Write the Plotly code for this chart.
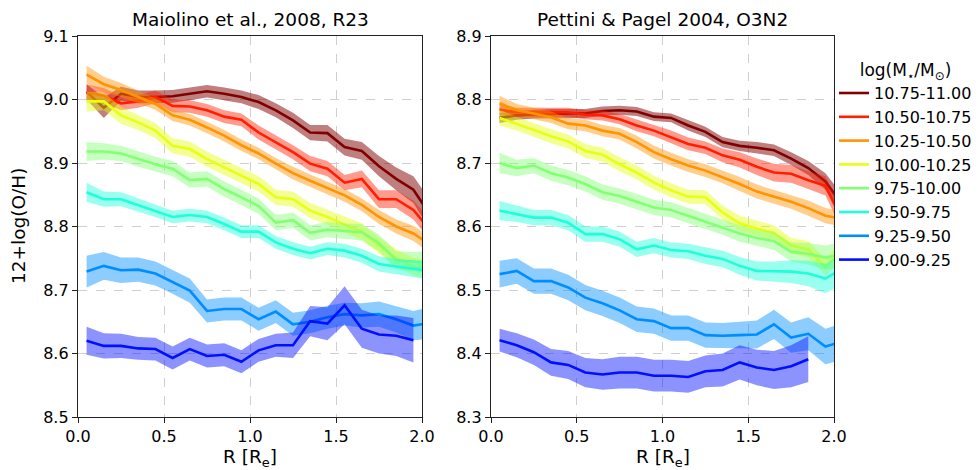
import plotly.graph_objects as go

# Radial bins (in units of R_e)
R = [0.05, 0.15, 0.25, 0.35, 0.45, 0.55, 0.65, 0.75, 0.85, 0.95,
     1.05, 1.15, 1.25, 1.35, 1.45, 1.55, 1.65, 1.75, 1.85, 1.95, 2.05]

mass_bins = ["10.75-11.00", "10.50-10.75", "10.25-10.50", "10.00-10.25",
             "9.75-10.00", "9.50-9.75", "9.25-9.50", "9.00-9.25"]

# ---- Maiolino et al. 2008, R23 ----
m08_1075 = [9.012, 8.987, 9.009, 9.004, 9.004, 9.005, 9.009, 9.013, 9.009, 9.004,
            8.996, 8.983, 8.967, 8.948, 8.947, 8.925, 8.919, 8.895, 8.875, 8.858, 8.817]
m08_1050 = [9.012, 9.006, 8.994, 8.997, 9.004, 8.990, 8.989, 8.983, 8.973, 8.968,
            8.948, 8.933, 8.917, 8.899, 8.891, 8.869, 8.875, 8.843, 8.843, 8.826, 8.794]
m08_1025 = [9.039, 9.024, 9.015, 9.004, 8.993, 8.975, 8.968, 8.956, 8.943, 8.928,
            8.915, 8.899, 8.884, 8.872, 8.861, 8.849, 8.834, 8.815, 8.800, 8.789, 8.771]
m08_1000 = [8.997, 8.997, 8.975, 8.964, 8.951, 8.927, 8.922, 8.906, 8.893, 8.880,
            8.867, 8.846, 8.843, 8.825, 8.815, 8.803, 8.792, 8.770, 8.750, 8.737, 8.732]
m08_975 = [8.918, 8.918, 8.915, 8.906, 8.898, 8.891, 8.873, 8.875, 8.859, 8.846,
           8.832, 8.806, 8.810, 8.790, 8.795, 8.793, 8.791, 8.774, 8.747, 8.745, 8.745]
m08_950 = [8.854, 8.843, 8.843, 8.834, 8.825, 8.815, 8.818, 8.815, 8.804, 8.792,
           8.792, 8.775, 8.765, 8.758, 8.765, 8.762, 8.754, 8.741, 8.737, 8.733, 8.730]
m08_925 = [8.729, 8.738, 8.731, 8.732, 8.726, 8.713, 8.699, 8.667, 8.670, 8.670,
           8.654, 8.666, 8.646, 8.650, 8.657, 8.662, 8.660, 8.662, 8.654, 8.644, 8.648]
m08_900 = [8.620, 8.612, 8.612, 8.608, 8.607, 8.593, 8.607, 8.596, 8.598, 8.587,
           8.605, 8.613, 8.613, 8.651, 8.647, 8.676, 8.639, 8.630, 8.628, 8.621, None]

m08_1075_err = [0.012, 0.016, 0.011, 0.010, 0.010, 0.010, 0.010, 0.010, 0.010, 0.010,
                0.011, 0.011, 0.012, 0.012, 0.013, 0.013, 0.014, 0.016, 0.018, 0.021, 0.024]
m08_1050_err = [0.012, 0.012, 0.011, 0.010, 0.010, 0.010, 0.010, 0.010, 0.010, 0.010,
                0.011, 0.011, 0.011, 0.012, 0.012, 0.012, 0.013, 0.014, 0.014, 0.015, 0.017]
m08_1025_err = [0.014, 0.012, 0.011, 0.010, 0.009, 0.009, 0.009, 0.009, 0.009, 0.009,
                0.009, 0.009, 0.010, 0.010, 0.010, 0.010, 0.010, 0.011, 0.011, 0.012, 0.013]
m08_1000_err = [0.016, 0.014, 0.013, 0.012, 0.012, 0.012, 0.012, 0.012, 0.012, 0.012,
                0.012, 0.012, 0.012, 0.012, 0.012, 0.013, 0.013, 0.013, 0.014, 0.014, 0.015]
m08_975_err = [0.015, 0.013, 0.012, 0.012, 0.012, 0.012, 0.012, 0.012, 0.012, 0.012,
               0.012, 0.012, 0.012, 0.012, 0.012, 0.012, 0.013, 0.013, 0.014, 0.015, 0.016]
m08_950_err = [0.015, 0.012, 0.011, 0.010, 0.010, 0.010, 0.010, 0.010, 0.010, 0.010,
               0.010, 0.010, 0.010, 0.010, 0.010, 0.011, 0.011, 0.012, 0.012, 0.013, 0.014]
m08_925_err = [0.025, 0.022, 0.020, 0.019, 0.019, 0.019, 0.019, 0.018, 0.018, 0.018,
               0.018, 0.018, 0.018, 0.018, 0.018, 0.018, 0.019, 0.020, 0.021, 0.023, 0.025]
m08_900_err = [0.022, 0.020, 0.019, 0.018, 0.018, 0.018, 0.018, 0.018, 0.018, 0.018,
               0.018, 0.018, 0.020, 0.024, 0.026, 0.030, 0.030, 0.030, 0.032, 0.035, None]

# ---- Pettini & Pagel 2004, O3N2 ----
pp04_1075 = [8.771, 8.775, 8.777, 8.778, 8.778, 8.778, 8.782, 8.783, 8.781, 8.773,
             8.771, 8.759, 8.749, 8.733, 8.727, 8.724, 8.720, 8.707, 8.692, 8.671, 8.633]
pp04_1050 = [8.784, 8.780, 8.780, 8.780, 8.780, 8.776, 8.775, 8.769, 8.759, 8.751,
             8.741, 8.730, 8.724, 8.712, 8.705, 8.694, 8.685, 8.683, 8.673, 8.664, 8.609]
pp04_1025 = [8.794, 8.783, 8.778, 8.772, 8.762, 8.759, 8.751, 8.746, 8.733, 8.717,
             8.706, 8.696, 8.688, 8.678, 8.667, 8.655, 8.647, 8.639, 8.629, 8.617, 8.612]
pp04_1000 = [8.771, 8.762, 8.752, 8.742, 8.734, 8.719, 8.713, 8.698, 8.685, 8.669,
             8.657, 8.647, 8.646, 8.622, 8.605, 8.597, 8.590, 8.570, 8.564, 8.536, 8.563]
pp04_975 = [8.700, 8.692, 8.696, 8.684, 8.677, 8.667, 8.654, 8.648, 8.639, 8.630,
            8.626, 8.617, 8.608, 8.599, 8.589, 8.582, 8.577, 8.560, 8.557, 8.551, 8.556]
pp04_950 = [8.625, 8.620, 8.614, 8.614, 8.606, 8.588, 8.588, 8.580, 8.564, 8.570,
            8.563, 8.561, 8.554, 8.549, 8.538, 8.530, 8.529, 8.529, 8.526, 8.518, 8.534]
pp04_925 = [8.525, 8.530, 8.514, 8.514, 8.504, 8.488, 8.479, 8.468, 8.454, 8.451,
            8.440, 8.440, 8.429, 8.428, 8.429, 8.430, 8.446, 8.425, 8.431, 8.411, 8.419]
pp04_900 = [8.421, 8.413, 8.402, 8.386, 8.382, 8.370, 8.367, 8.370, 8.370, 8.365,
            8.365, 8.363, 8.372, 8.374, 8.386, 8.378, 8.374, 8.380, 8.391, None, None]

pp04_1075_err = [0.008, 0.007, 0.007, 0.007, 0.007, 0.007, 0.007, 0.007, 0.007, 0.007,
                 0.007, 0.008, 0.008, 0.008, 0.008, 0.009, 0.009, 0.010, 0.011, 0.013, 0.016]
pp04_1050_err = [0.008, 0.007, 0.007, 0.007, 0.007, 0.007, 0.008, 0.008, 0.009, 0.009,
                 0.010, 0.010, 0.010, 0.011, 0.012, 0.013, 0.014, 0.014, 0.014, 0.015, 0.017]
pp04_1025_err = [0.012, 0.010, 0.009, 0.009, 0.009, 0.009, 0.009, 0.009, 0.010, 0.010,
                 0.010, 0.010, 0.010, 0.010, 0.011, 0.011, 0.011, 0.011, 0.012, 0.012, 0.012]
pp04_1000_err = [0.012, 0.011, 0.011, 0.011, 0.011, 0.011, 0.011, 0.011, 0.011, 0.011,
                 0.011, 0.011, 0.011, 0.011, 0.012, 0.012, 0.012, 0.012, 0.013, 0.013, 0.014]
pp04_975_err = [0.016, 0.013, 0.012, 0.012, 0.012, 0.012, 0.012, 0.012, 0.012, 0.012,
                0.012, 0.012, 0.012, 0.012, 0.013, 0.013, 0.014, 0.015, 0.017, 0.019, 0.020]
pp04_950_err = [0.015, 0.013, 0.012, 0.012, 0.012, 0.012, 0.012, 0.012, 0.012, 0.012,
                0.012, 0.012, 0.013, 0.013, 0.014, 0.015, 0.016, 0.018, 0.020, 0.023, 0.025]
pp04_925_err = [0.021, 0.020, 0.020, 0.020, 0.020, 0.020, 0.020, 0.020, 0.020, 0.020,
                0.020, 0.020, 0.020, 0.020, 0.021, 0.022, 0.023, 0.024, 0.026, 0.028, 0.029]
pp04_900_err = [0.018, 0.019, 0.020, 0.021, 0.022, 0.023, 0.024, 0.025, 0.025, 0.025,
                0.025, 0.025, 0.025, 0.026, 0.027, 0.028, 0.030, 0.033, 0.036, None, None]

colors = ["rgb(128,0,0)", "rgb(255,31,0)", "rgb(255,147,0)", "rgb(231,255,16)",
          "rgb(131,255,116)", "rgb(30,255,217)", "rgb(0,141,255)", "rgb(0,15,255)"]
band_colors = ["rgba(128,0,0,0.5)", "rgba(255,31,0,0.45)", "rgba(255,147,0,0.45)",
               "rgba(231,255,16,0.45)", "rgba(131,255,116,0.45)", "rgba(30,255,217,0.45)",
               "rgba(0,141,255,0.45)", "rgba(0,15,255,0.45)"]

m08_series = [m08_1075, m08_1050, m08_1025, m08_1000, m08_975, m08_950, m08_925, m08_900]
m08_errors = [m08_1075_err, m08_1050_err, m08_1025_err, m08_1000_err,
              m08_975_err, m08_950_err, m08_925_err, m08_900_err]
pp04_series = [pp04_1075, pp04_1050, pp04_1025, pp04_1000, pp04_975, pp04_950, pp04_925, pp04_900]
pp04_errors = [pp04_1075_err, pp04_1050_err, pp04_1025_err, pp04_1000_err,
               pp04_975_err, pp04_950_err, pp04_925_err, pp04_900_err]

FONT = "DejaVu Sans"
fig = go.Figure()


def add_panel(series, errors, xa, ya, show_legend):
    for i, (vals, errs) in enumerate(zip(series, errors)):
        xs = [r for r, v in zip(R, vals) if v is not None]
        ys = [v for v in vals if v is not None]
        es = [e for e in errs if e is not None]
        up = [y + e for y, e in zip(ys, es)]
        lo = [y - e for y, e in zip(ys, es)]
        fig.add_trace(go.Scatter(
            x=xs + xs[::-1], y=up + lo[::-1], fill="toself",
            fillcolor=band_colors[i], line=dict(width=0), mode="lines",
            hoverinfo="skip", showlegend=False, xaxis=xa, yaxis=ya))
        fig.add_trace(go.Scatter(
            x=xs, y=ys, mode="lines", name=mass_bins[i],
            line=dict(color=colors[i], width=2.6),
            showlegend=show_legend, legendgroup=mass_bins[i],
            xaxis=xa, yaxis=ya))


add_panel(m08_series, m08_errors, "x", "y", True)
add_panel(pp04_series, pp04_errors, "x2", "y2", False)

# The page body adds an 8px margin, so the figure is laid out 8px smaller/shifted.
OFF = 8
W, H = 980 - OFF, 470 - OFF


def px(xp):
    return (xp - OFF) / W


def py(yp):
    return 1 - (yp - OFF) / H


ydom = [py(417), py(36)]

axis_common = dict(
    showgrid=True, gridcolor="#cfcfcf", griddash="dash", gridwidth=1,
    showline=True, mirror=True, linecolor="#222222", linewidth=1.3,
    ticks="outside", ticklen=5, tickwidth=1.3, tickcolor="#222222",
    tickfont=dict(family=FONT, size=16, color="black"),
    zeroline=False, tickformat=".1f", automargin=False,
)

fig.update_layout(
    width=W, height=H,
    margin=dict(l=0, r=0, t=0, b=0, autoexpand=False),
    paper_bgcolor="white", plot_bgcolor="white",
    font=dict(family=FONT, color="black"),
    xaxis=dict(domain=[px(78), px(422)], range=[0, 2], tickvals=[0, 0.5, 1.0, 1.5, 2.0],
               anchor="y", **axis_common),
    yaxis=dict(domain=ydom, range=[8.5, 9.1], tickvals=[8.5, 8.6, 8.7, 8.8, 8.9, 9.0, 9.1],
               anchor="x", **axis_common),
    xaxis2=dict(domain=[px(491), px(834)], range=[0, 2], tickvals=[0, 0.5, 1.0, 1.5, 2.0],
                anchor="y2", **axis_common),
    yaxis2=dict(domain=ydom, range=[8.3, 8.9], tickvals=[8.3, 8.4, 8.5, 8.6, 8.7, 8.8, 8.9],
                anchor="x2", **axis_common),
    showlegend=True,
    legend=dict(
        x=px(834), y=py(54), xanchor="left", yanchor="top",
        font=dict(family=FONT, size=16, color="black"),
        title=dict(text="log(M<sub>⋆</sub>/M<sub>⊙</sub>)",
                   font=dict(family=FONT, size=17, color="black"), side="top center"),
        bgcolor="rgba(255,255,255,0)", tracegroupgap=0, itemwidth=30,
        borderwidth=0,
    ),
)

annotations = [
    dict(text="Maiolino et al., 2008, R23", x=px(250), y=py(19)),
    dict(text="Pettini & Pagel 2004, O3N2", x=px(662.5), y=py(19)),
    dict(text="R [R<sub>e</sub>]", x=px(250), y=py(458)),
    dict(text="R [R<sub>e</sub>]", x=px(662.5), y=py(458)),
]
for a in annotations:
    fig.add_annotation(xref="paper", yref="paper", x=a["x"], y=a["y"], text=a["text"],
                       showarrow=False, xanchor="center", yanchor="middle",
                       font=dict(family=FONT, size=18.5, color="black"))
fig.add_annotation(xref="paper", yref="paper", x=px(18), y=py(226),
                   text="12+log(O/H)", textangle=-90, showarrow=False,
                   xanchor="center", yanchor="middle",
                   font=dict(family=FONT, size=18.5, color="black"))

fig.write_html("out.html")
